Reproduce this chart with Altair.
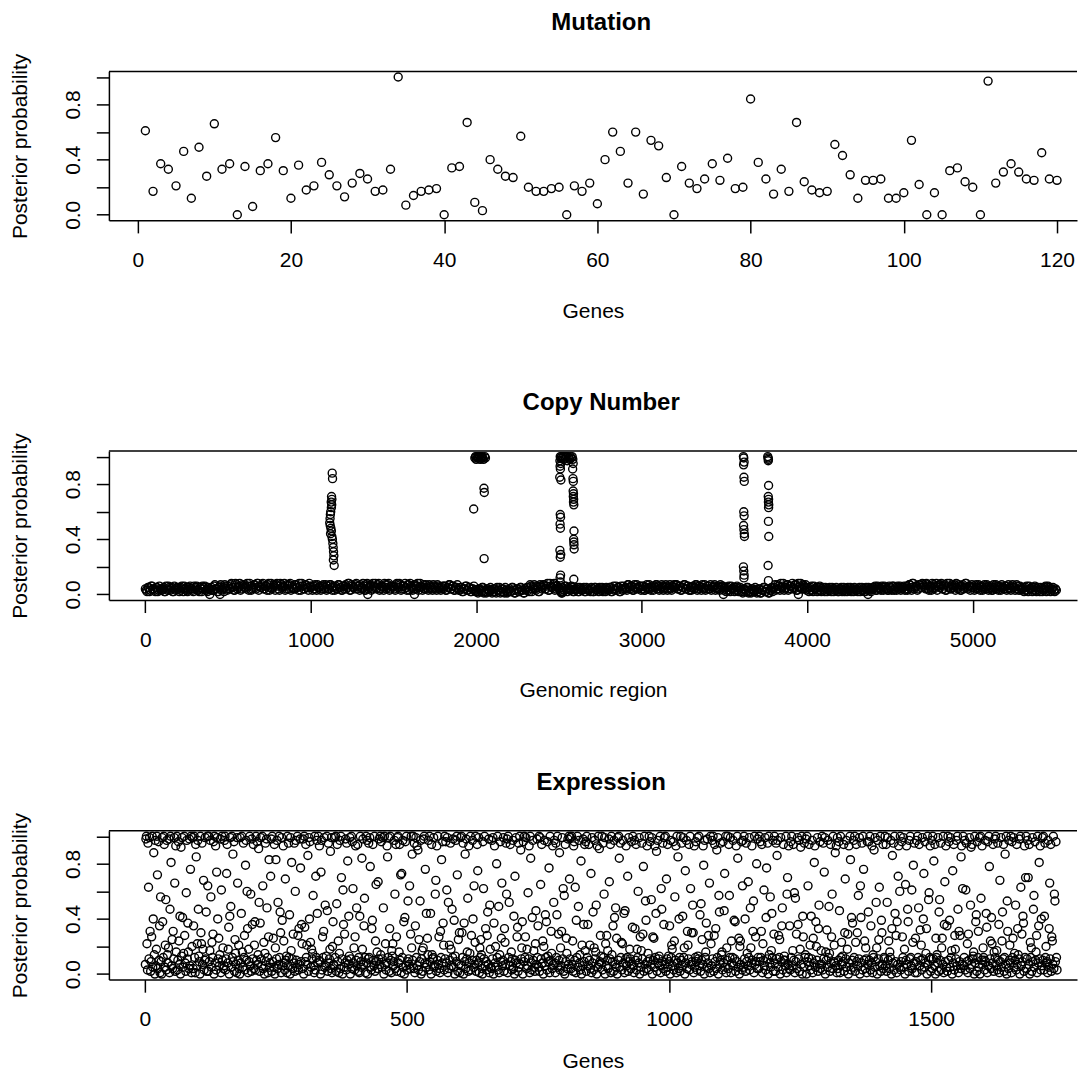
import altair as alt
import pandas as pd

alt.data_transformers.disable_max_rows()

# ---------------- data ----------------
# Mutation: posterior probability for genes 1..120
mutation_pp = [
    0.61, 0.17, 0.37, 0.33, 0.21, 0.46, 0.12, 0.49, 0.28, 0.66,
    0.33, 0.37, 0.00, 0.35, 0.06, 0.32, 0.37, 0.56, 0.32, 0.12,
    0.36, 0.18, 0.21, 0.38, 0.29, 0.21, 0.13, 0.23, 0.30, 0.26,
    0.17, 0.18, 0.33, 1.00, 0.07, 0.14, 0.17, 0.18, 0.19, 0.00,
    0.34, 0.35, 0.67, 0.09, 0.03, 0.40, 0.33, 0.28, 0.27, 0.57,
    0.20, 0.17, 0.17, 0.19, 0.20, 0.00, 0.21, 0.17, 0.23, 0.08,
    0.40, 0.60, 0.46, 0.23, 0.60, 0.15, 0.54, 0.50, 0.27, 0.00,
    0.35, 0.23, 0.19, 0.26, 0.37, 0.25, 0.41, 0.19, 0.20, 0.84,
    0.38, 0.26, 0.15, 0.33, 0.17, 0.67, 0.24, 0.18, 0.16, 0.17,
    0.51, 0.43, 0.29, 0.12, 0.25, 0.25, 0.26, 0.12, 0.12, 0.16,
    0.54, 0.22, 0.00, 0.16, 0.00, 0.32, 0.34, 0.24, 0.20, 0.00,
    0.97, 0.23, 0.31, 0.37, 0.31, 0.26, 0.25, 0.45, 0.26, 0.25,
]

# Copy number: baseline band (hundredths), regions 1, 11, 21, ... and 6, 16, 26, ...
cn_region_count = 5510
cn_baseline_pct_a = [
    4, 2, 5, 3, 6, 4, 2, 5, 3, 4,   3, 5, 2, 4, 6, 3, 5, 2, 4, 5,
    5, 3, 6, 2, 4, 5, 3, 6, 4, 2,   4, 6, 3, 5, 2, 4, 6, 3, 5, 4,
    5, 3, 7, 4, 2, 6, 3, 5, 7, 4,   6, 4, 8, 5, 3, 7, 5, 8, 4, 6,
    7, 4, 6, 8, 3, 5, 7, 4, 8, 6,   5, 8, 4, 6, 7, 3, 8, 5, 6, 7,
    6, 3, 7, 5, 8, 4, 6, 7, 3, 5,   4, 7, 5, 8, 3, 6, 4, 7, 5, 8,
    5, 3, 6, 4, 7, 5, 3, 6, 4, 7,   6, 4, 7, 3, 5, 6, 4, 7, 5, 3,
    4, 7, 5, 8, 3, 6, 5, 7, 4, 6,   7, 4, 6, 3, 8, 5, 7, 4, 6, 8,
    5, 8, 4, 6, 3, 7, 5, 8, 4, 6,   6, 3, 8, 5, 7, 4, 6, 8, 3, 7,
    8, 5, 4, 7, 6, 3, 8, 5, 7, 4,   5, 3, 6, 4, 7, 5, 3, 6, 4, 5,
    4, 6, 3, 5, 7, 4, 6, 3, 5, 4,   3, 5, 2, 4, 6, 3, 5, 2, 4, 3,
    3, 1, 4, 2, 5, 3, 1, 4, 2, 3,   2, 4, 1, 3, 5, 2, 4, 1, 3, 2,
    4, 2, 5, 1, 3, 4, 2, 5, 3, 1,   3, 5, 2, 6, 4, 7, 3, 5, 2, 6,
    5, 7, 4, 8, 3, 6, 5, 8, 4, 6,   4, 2, 5, 3, 6, 2, 4, 3, 5, 2,
    3, 5, 2, 4, 3, 5, 2, 4, 3, 2,   4, 2, 5, 3, 2, 4, 5, 3, 2, 4,
    3, 5, 2, 6, 4, 3, 5, 2, 4, 6,   5, 3, 7, 4, 6, 3, 5, 7, 4, 6,
    4, 6, 3, 7, 5, 4, 6, 3, 5, 7,   6, 4, 7, 3, 5, 6, 4, 7, 3, 5,
    5, 7, 4, 6, 3, 5, 7, 4, 6, 3,   3, 6, 5, 7, 4, 6, 3, 5, 7, 4,
    6, 4, 3, 5, 7, 4, 6, 3, 5, 6,   4, 2, 5, 3, 6, 4, 2, 5, 3, 4,
    3, 1, 4, 2, 5, 3, 1, 4, 2, 3,   2, 4, 1, 3, 5, 2, 4, 1, 3, 2,
    5, 3, 7, 4, 8, 6, 3, 5, 7, 4,   6, 8, 4, 7, 3, 5, 8, 4, 6, 7,
    4, 2, 5, 3, 6, 4, 2, 5, 3, 4,   3, 5, 2, 4, 3, 5, 2, 4, 3, 2,
    4, 2, 5, 3, 2, 4, 5, 3, 2, 4,   3, 4, 2, 5, 3, 2, 4, 5, 3, 4,
    4, 6, 3, 5, 4, 6, 3, 5, 4, 3,   5, 3, 6, 4, 3, 5, 6, 4, 5, 3,
    6, 4, 7, 3, 8, 5, 6, 4, 7, 5,   7, 5, 8, 4, 6, 3, 7, 5, 8, 6,
    5, 8, 4, 7, 3, 6, 8, 4, 5, 7,   8, 4, 6, 3, 7, 5, 8, 4, 6, 5,
    5, 3, 7, 4, 6, 5, 3, 7, 4, 6,   4, 6, 3, 5, 7, 4, 6, 3, 5, 4,
    6, 4, 5, 3, 7, 5, 4, 6, 3, 5,   4, 2, 5, 3, 6, 4, 2, 5, 3, 4,
    3, 5, 2, 4, 6, 3, 5, 2, 4, 3,   4,
]
cn_baseline_pct_b = [
    3, 5, 2, 6, 4, 3, 5, 2, 6, 3,   4, 2, 6, 3, 5, 4, 2, 6, 3, 4,
    2, 5, 4, 6, 3, 2, 5, 4, 3, 6,   5, 3, 2, 4, 6, 5, 3, 2, 4, 3,
    3, 6, 4, 2, 5, 7, 4, 2, 6, 3,   4, 7, 5, 3, 8, 4, 6, 3, 7, 5,
    5, 8, 3, 6, 4, 7, 5, 8, 3, 5,   7, 4, 6, 3, 8, 5, 4, 7, 3, 8,
    4, 8, 5, 6, 3, 7, 4, 8, 6, 4,   7, 5, 3, 6, 8, 4, 7, 5, 3, 6,
    6, 4, 7, 3, 5, 6, 4, 7, 5, 3,   4, 7, 5, 6, 3, 4, 7, 5, 3, 6,
    6, 4, 8, 3, 7, 5, 4, 8, 6, 3,   5, 8, 3, 7, 4, 6, 3, 8, 5, 4,
    7, 3, 6, 5, 8, 4, 7, 3, 6, 5,   4, 7, 5, 8, 3, 6, 4, 5, 7, 3,
    6, 3, 7, 4, 8, 5, 6, 3, 4, 7,   4, 7, 5, 3, 6, 4, 7, 5, 3, 6,
    6, 3, 5, 7, 4, 6, 3, 5, 7, 3,   5, 2, 4, 6, 3, 5, 2, 4, 6, 2,
    2, 4, 3, 5, 1, 2, 4, 3, 5, 1,   4, 2, 5, 3, 1, 4, 2, 5, 1, 3,
    2, 5, 3, 1, 4, 2, 5, 3, 1, 4,   5, 3, 7, 2, 5, 4, 6, 2, 7, 4,
    7, 4, 6, 3, 8, 5, 7, 3, 6, 5,   3, 5, 2, 6, 4, 5, 3, 6, 2, 4,
    4, 2, 5, 3, 4, 2, 5, 3, 4, 5,   2, 5, 3, 4, 5, 3, 2, 4, 5, 3,
    5, 2, 4, 3, 6, 5, 2, 6, 3, 4,   4, 7, 5, 6, 3, 7, 4, 5, 6, 3,
    6, 3, 5, 4, 7, 3, 5, 6, 7, 4,   3, 5, 6, 4, 7, 3, 5, 4, 6, 7,
    7, 4, 6, 3, 5, 7, 4, 6, 3, 5,   5, 4, 7, 3, 6, 5, 7, 4, 3, 6,
    4, 7, 5, 6, 3, 5, 4, 7, 6, 3,   5, 3, 6, 2, 4, 5, 3, 6, 2, 5,
    2, 4, 3, 5, 1, 2, 4, 3, 5, 1,   4, 1, 3, 5, 2, 4, 1, 3, 5, 4,
    7, 4, 6, 3, 5, 8, 4, 7, 3, 6,   4, 5, 7, 3, 8, 6, 4, 7, 5, 3,
    5, 3, 6, 2, 4, 5, 3, 6, 2, 5,   2, 4, 3, 5, 2, 4, 3, 5, 2, 4,
    5, 3, 2, 4, 5, 3, 2, 4, 5, 3,   2, 5, 3, 4, 2, 5, 3, 4, 2, 5,
    5, 3, 6, 4, 3, 5, 6, 4, 3, 6,   4, 6, 3, 5, 6, 4, 3, 5, 6, 4,
    3, 7, 5, 8, 4, 6, 3, 7, 5, 8,   6, 4, 7, 3, 5, 8, 4, 6, 3, 7,
    7, 4, 6, 3, 8, 5, 4, 7, 6, 3,   5, 7, 3, 6, 4, 8, 5, 6, 3, 7,
    6, 4, 5, 7, 3, 6, 4, 5, 7, 3,   5, 3, 7, 4, 6, 3, 5, 7, 4, 6,
    3, 7, 4, 6, 5, 3, 7, 4, 6, 3,   5, 3, 6, 2, 4, 5, 3, 6, 2, 5,
    2, 4, 3, 5, 2, 6, 4, 3, 5, 2,   3,
]

# Copy number: regions standing out from the band (spikes and dips)
cn_spike_region = [
    1130, 1132, 1126, 1128, 1124, 1127, 1125, 1121, 1119, 1117, 1115, 1118,
    1122, 1125, 1120, 1128, 1131, 1134, 1136, 1138, 1140, 1137, 1142,
    1985, 1992, 1996, 2000, 2004, 2008, 2012, 2016, 2020, 2024, 2028, 2032,
    2036, 2040, 2044, 2047, 2049, 2052, 2048, 2056,
    2508, 2510, 2506, 2511, 2507, 2509, 2505, 2512, 2508, 2510, 2507, 2509,
    2506, 2511, 2508, 2510, 2507, 2509,
    2515, 2520, 2525, 2530, 2535, 2540, 2545, 2550, 2555, 2560, 2565, 2570,
    2575, 2580,
    2584, 2586, 2583, 2585, 2587, 2586, 2588, 2587, 2589, 2588, 2590, 2591,
    2589, 2590, 2591, 2592, 2590,
    3615, 3617, 3619, 3616, 3618, 3620, 3617, 3619, 3616, 3618, 3620, 3621,
    3615, 3617, 3619, 3618,
    3762, 3764, 3766, 3765, 3767, 3765, 3767, 3766, 3768, 3767, 3766, 3768,
    3764, 3766,
    390, 452, 1345, 1627, 3494, 3947, 4368, 2515, 2520,
]
cn_spike_pp = [
    0.88, 0.84, 0.71, 0.69, 0.67, 0.65, 0.63, 0.60, 0.58, 0.55, 0.52, 0.50,
    0.48, 0.46, 0.44, 0.42, 0.40, 0.37, 0.34, 0.31, 0.28, 0.25, 0.21,
    0.62, 0.99, 1.00, 0.98, 1.00, 0.99, 1.00, 0.99, 1.00, 0.98, 1.00, 0.99,
    1.00, 0.99, 0.98, 0.77, 0.74, 1.00, 0.26, 0.99,
    1.00, 0.99, 0.97, 0.95, 0.93, 0.91, 0.85, 0.83, 0.58, 0.56, 0.51, 0.48,
    0.32, 0.29, 0.27, 0.14, 0.12, 0.09,
    1.00, 0.99, 1.00, 0.98, 1.00, 0.99, 1.00, 0.97, 1.00, 0.99, 0.98, 1.00,
    0.99, 1.00,
    0.98, 0.95, 0.91, 0.84, 0.82, 0.75, 0.73, 0.71, 0.69, 0.67, 0.65, 0.46,
    0.40, 0.38, 0.36, 0.33, 0.11,
    1.00, 0.99, 0.96, 0.94, 0.85, 0.82, 0.60, 0.57, 0.50, 0.47, 0.44, 0.42,
    0.20, 0.17, 0.14, 0.12,
    1.00, 0.99, 0.98, 0.97, 0.79, 0.71, 0.69, 0.67, 0.65, 0.63, 0.53, 0.42,
    0.21, 0.10,
    0.00, 0.00, 0.00, 0.00, 0.00, 0.00, 0.00, 0.01, 0.01,
]

# Expression: posterior probability (in hundredths) for genes 1..N
expr_pct_1 = [
    7, 98, 100, 22, 3, 95, 63, 11, 99, 31, 2, 9, 27, 100, 5, 40, 88, 14, 0, 97, 6, 18, 100, 72, 4, 96, 10, 35, 1, 56,
    9, 0, 99, 38, 12, 100, 94, 5, 21, 54, 3, 97, 14, 8, 19, 98, 1, 47, 100, 81, 6, 25, 4, 31, 11, 99, 66, 2, 93, 16,
    100, 3, 10, 96, 24, 7, 42, 0, 92, 13, 99, 41, 5, 15, 100, 28, 8, 2, 59, 97, 11, 37, 16, 4, 98, 6, 76, 100, 1, 20,
    99, 4, 35, 100, 12, 1, 94, 85, 6, 22, 97, 47, 13, 9, 0, 100, 30, 22, 95, 7, 18, 68, 3, 10, 99, 11, 45, 2, 100, 64,
    2, 100, 9, 17, 97, 56, 5, 23, 12, 29, 96, 0, 100, 8, 93, 3, 74, 99, 40, 11, 26, 6, 14, 98, 1, 61, 100, 10, 19, 4,
    6, 97, 100, 3, 11, 73, 94, 8, 18, 34, 0, 42, 99, 49, 5, 100, 12, 87, 9, 96, 2, 25, 15, 7, 1, 99, 66, 10, 21, 4,
    0, 99, 8, 44, 100, 16, 5, 95, 12, 28, 3, 79, 97, 10, 60, 33, 1, 18, 9, 100, 6, 58, 2, 98, 36, 11, 94, 4, 21, 38,
    3, 100, 10, 96, 7, 14, 91, 52, 2, 37, 99, 11, 6, 100, 64, 4, 23, 0, 15, 95, 9, 98, 48, 12, 1, 27, 83, 5, 8, 71,
    98, 2, 100, 9, 26, 5, 94, 0, 19, 83, 11, 97, 4, 52, 7, 100, 12, 45, 30, 1, 99, 39, 6, 93, 24, 8, 3, 69, 10, 13,
    1, 100, 6, 95, 12, 43, 0, 99, 17, 81, 11, 4, 29, 8, 95, 2, 60, 97, 10, 5, 100, 28, 3, 33, 7, 98, 77, 9, 36, 22,
]
expr_pct_2 = [
    4, 98, 0, 100, 34, 9, 94, 12, 21, 7, 86, 2, 99, 40, 96, 23, 5, 18, 11, 15, 57, 6, 1, 100, 3, 71, 12, 97, 44, 8,
    100, 10, 93, 9, 0, 74, 97, 3, 27, 12, 31, 99, 5, 50, 6, 13, 100, 46, 2, 95, 8, 11, 18, 89, 4, 99, 1, 20, 38, 7,
    6, 99, 12, 100, 2, 51, 94, 9, 24, 1, 15, 97, 4, 100, 70, 11, 0, 61, 36, 5, 29, 8, 98, 3, 95, 10, 82, 7, 42, 13,
    99, 0, 11, 100, 4, 96, 62, 8, 19, 3, 27, 93, 10, 48, 6, 94, 2, 12, 1, 42, 100, 9, 5, 84, 18, 98, 7, 35, 55, 12,
    1, 100, 8, 97, 0, 11, 95, 12, 99, 78, 5, 3, 33, 39, 94, 10, 6, 100, 2, 24, 65, 9, 16, 4, 67, 11, 98, 7, 100, 14,
    96, 5, 11, 99, 48, 0, 100, 7, 22, 3, 8, 93, 85, 12, 99, 2, 33, 100, 10, 1, 17, 13, 22, 6, 9, 97, 58, 4, 94, 27,
    2, 99, 100, 8, 16, 94, 10, 72, 1, 73, 12, 97, 5, 38, 0, 41, 96, 6, 100, 3, 9, 53, 11, 7, 64, 4, 29, 100, 19, 87,
    10, 100, 4, 95, 1, 35, 99, 12, 93, 6, 90, 3, 25, 9, 53, 97, 0, 11, 17, 2, 19, 98, 100, 8, 76, 5, 44, 7, 26, 14,
    97, 3, 100, 9, 44, 0, 94, 14, 11, 12, 99, 5, 6, 58, 68, 2, 93, 10, 100, 7, 27, 4, 1, 31, 12, 83, 8, 96, 37, 21,
    3, 100, 11, 96, 8, 61, 99, 1, 52, 4, 21, 10, 95, 18, 6, 47, 12, 98, 5, 39, 0, 13, 97, 9, 100, 72, 2, 25, 7, 30,
]
expr_pct_3 = [
    1, 99, 6, 100, 30, 12, 95, 0, 37, 9, 87, 4, 98, 11, 16, 55, 2, 93, 8, 15, 100, 3, 28, 10, 97, 40, 5, 64, 7, 23,
    100, 2, 10, 94, 75, 8, 99, 1, 19, 12, 25, 14, 4, 0, 96, 62, 11, 100, 6, 33, 9, 3, 28, 45, 7, 98, 1, 50, 18, 5,
    4, 97, 11, 99, 0, 37, 93, 8, 20, 5, 80, 12, 100, 3, 49, 1, 14, 96, 9, 26, 66, 6, 10, 99, 2, 33, 23, 7, 95, 58,
    98, 1, 100, 12, 52, 6, 94, 9, 16, 3, 11, 97, 4, 42, 0, 71, 10, 99, 8, 27, 34, 2, 95, 5, 100, 7, 90, 11, 19, 38,
    0, 96, 9, 100, 12, 27, 99, 4, 18, 6, 59, 11, 93, 1, 100, 84, 8, 3, 41, 97, 10, 17, 5, 2, 22, 46, 7, 98, 12, 35,
    5, 100, 2, 99, 65, 11, 94, 8, 24, 0, 20, 97, 6, 43, 12, 38, 3, 96, 13, 9, 77, 1, 100, 10, 31, 15, 4, 93, 7, 52,
    97, 8, 1, 95, 12, 43, 100, 5, 29, 10, 88, 3, 19, 6, 31, 99, 11, 62, 2, 57, 0, 94, 9, 26, 15, 4, 98, 7, 100, 69,
    11, 99, 4, 100, 7, 24, 2, 93, 96, 10, 63, 1, 39, 12, 100, 5, 49, 97, 8, 14, 3, 82, 0, 21, 6, 98, 36, 9, 94, 17,
    96, 2, 100, 12, 36, 6, 94, 10, 21, 4, 73, 1, 99, 8, 45, 3, 19, 97, 11, 16, 50, 0, 93, 5, 100, 7, 91, 9, 28, 13,
    8, 100, 3, 95, 12, 58, 99, 0, 22, 6, 28, 10, 17, 4, 98, 67, 11, 94, 1, 100, 14, 9, 35, 2, 97, 41, 7, 48, 5, 26,
]
expr_pct_4 = [
    0, 99, 10, 100, 84, 5, 95, 12, 23, 3, 22, 97, 8, 44, 1, 46, 11, 93, 6, 12, 71, 2, 99, 9, 18, 11, 4, 96, 7, 34,
    100, 6, 1, 97, 33, 10, 94, 3, 18, 12, 60, 8, 99, 0, 27, 5, 17, 95, 11, 29, 78, 2, 100, 7, 53, 39, 4, 93, 9, 15,
    3, 100, 11, 96, 7, 54, 99, 0, 27, 10, 26, 5, 93, 12, 44, 89, 2, 97, 8, 11, 13, 6, 100, 1, 62, 47, 9, 95, 4, 36,
    99, 7, 100, 2, 69, 11, 94, 5, 13, 9, 35, 0, 97, 12, 21, 18, 6, 96, 3, 24, 56, 10, 93, 1, 100, 8, 85, 4, 40, 12,
    2, 100, 10, 95, 6, 42, 99, 12, 19, 0, 75, 8, 97, 4, 31, 21, 11, 94, 3, 100, 62, 7, 30, 9, 50, 30, 1, 93, 5, 12,
    96, 9, 3, 99, 13, 11, 100, 6, 43, 2, 51, 10, 25, 7, 93, 79, 0, 97, 12, 16, 37, 5, 98, 8, 28, 4, 66, 1, 100, 22,
    6, 97, 11, 100, 2, 28, 94, 9, 33, 4, 90, 12, 99, 0, 57, 45, 7, 95, 10, 14, 16, 3, 96, 8, 46, 73, 5, 100, 1, 19,
    10, 100, 4, 94, 57, 12, 99, 1, 24, 8, 12, 97, 6, 39, 11, 38, 2, 93, 9, 100, 84, 5, 26, 0, 20, 24, 7, 96, 3, 64,
    97, 5, 100, 11, 40, 2, 95, 9, 15, 6, 67, 12, 99, 3, 48, 19, 8, 93, 10, 31, 53, 1, 100, 7, 27, 9, 80, 4, 98, 12,
    4, 100, 9, 96, 12, 31, 94, 1, 22, 10, 61, 6, 99, 3, 41, 77, 11, 95, 0, 100, 14, 8, 56, 5, 17, 44, 12, 97, 2, 29,
]
expr_pct_5 = [
    100, 8, 2, 95, 11, 86, 97, 5, 28, 12, 25, 0, 99, 9, 35, 48, 3, 94, 10, 13, 10, 6, 100, 1, 58, 70, 7, 93, 4, 35,
    3, 96, 12, 100, 6, 17, 94, 10, 59, 1, 55, 9, 29, 4, 99, 36, 11, 97, 2, 18, 92, 7, 100, 0, 42, 27, 5, 95, 12, 14,
    98, 0, 100, 9, 64, 12, 94, 6, 21, 3, 42, 11, 97, 1, 26, 8, 81, 93, 5, 38, 20, 10, 99, 2, 33, 50, 7, 96, 4, 17,
    7, 100, 3, 95, 11, 74, 99, 0, 16, 10, 32, 5, 97, 12, 49, 15, 2, 94, 8, 27, 58, 4, 100, 9, 21, 8, 88, 6, 93, 1,
    99, 4, 10, 96, 46, 1, 100, 12, 23, 7, 13, 9, 94, 2, 30, 69, 11, 97, 5, 18, 29, 0, 93, 8, 100, 83, 3, 41, 10, 37,
    5, 97, 12, 100, 2, 23, 94, 9, 30, 6, 57, 11, 99, 0, 64, 41, 8, 95, 3, 100, 76, 10, 24, 4, 19, 11, 1, 96, 7, 45,
    96, 10, 100, 3, 35, 8, 93, 1, 14, 12, 90, 5, 99, 9, 52, 19, 0, 97, 11, 25, 63, 6, 100, 2, 39, 30, 7, 94, 4, 12,
    11, 100, 6, 94, 2, 52, 99, 10, 24, 4, 16, 12, 97, 0, 33, 86, 8, 95, 3, 100, 44, 9, 28, 1, 38, 7, 71, 93, 5, 60,
    100, 3, 9, 96, 27, 12, 99, 5, 18, 0, 65, 10, 93, 7, 47, 38, 2, 97, 11, 100, 12, 6, 61, 4, 23, 79, 8, 95, 1, 26,
    9, 97, 1, 100, 12, 48, 94, 6, 32, 10, 21, 3, 99, 11, 40, 73, 5, 96, 8, 15, 33, 0, 100, 7, 54, 59, 12, 93, 2, 11,
]
expr_pct_6 = [
    97, 4, 100, 11, 82, 6, 94, 0, 26, 12, 14, 8, 99, 2, 45, 54, 10, 95, 3, 19, 26, 7, 100, 1, 36, 67, 9, 93, 5, 35,
    2, 100, 10, 96, 39, 5, 99, 12, 17, 0, 75, 8, 94, 3, 28, 18, 11, 97, 6, 100, 47, 1, 31, 9, 28, 4, 85, 93, 7, 62,
    100, 6, 12, 97, 3, 61, 95, 9, 22, 1, 29, 10, 99, 4, 50, 92, 7, 94, 11, 13, 16, 0, 100, 8, 38, 43, 2, 96, 12, 31,
    5, 99, 0, 100, 55, 10, 93, 7, 19, 12, 10, 3, 97, 9, 44, 34, 1, 96, 6, 100, 78, 11, 24, 4, 41, 22, 8, 94, 2, 16,
    98, 12, 100, 6, 17, 3, 95, 10, 36, 1, 68, 9, 99, 5, 24, 45, 11, 94, 2, 12, 87, 7, 100, 0, 53, 31, 4, 97, 10, 21,
    8, 100, 1, 96, 12, 26, 99, 5, 15, 10, 50, 3, 94, 7, 33, 14, 11, 98, 0, 100, 63, 6, 29, 9, 42, 37, 2, 93, 12, 70,
    100, 4, 11, 97, 70, 7, 94, 0, 23, 12, 19, 2, 99, 9, 47, 57, 5, 96, 10, 16, 28, 1, 100, 8, 35, 81, 11, 93, 3, 40,
    6, 99, 10, 100, 3, 42, 95, 12, 20, 8, 9, 1, 97, 5, 33, 66, 11, 94, 2, 27, 24, 7, 100, 4, 58, 53, 9, 96, 12, 3,
]

panel_titles = ["Mutation", "Copy Number", "Expression"]
x_titles = ["Genes", "Genomic region", "Genes"]
x_ticks = [[0, 20, 40, 60, 80, 100, 120],
           [0, 1000, 2000, 3000, 4000, 5000],
           [0, 500, 1000, 1500]]
y_ticks = [0, 0.2, 0.4, 0.6, 0.8, 1.0]
y_labels_shown = ["0.0", "0.4", "0.8"]

# ---------------- tables ----------------
mut_df = pd.DataFrame({"x": list(range(1, len(mutation_pp) + 1)), "pp": mutation_pp})

cn_df = pd.concat([
    pd.DataFrame({"x": [1 + 10 * i for i in range(len(cn_baseline_pct_a))],
                  "pp": [v / 100 for v in cn_baseline_pct_a]}),
    pd.DataFrame({"x": [6 + 10 * i for i in range(len(cn_baseline_pct_b))],
                  "pp": [v / 100 for v in cn_baseline_pct_b]}),
    pd.DataFrame({"x": cn_spike_region, "pp": cn_spike_pp}),
], ignore_index=True)

expr_pct = expr_pct_1 + expr_pct_2 + expr_pct_3 + expr_pct_4 + expr_pct_5 + expr_pct_6
expr_df = pd.DataFrame({"x": list(range(1, len(expr_pct) + 1)), "pp": [v / 100 for v in expr_pct]})

# ---------------- chart ----------------
FONT = "Liberation Sans"
FULL_W = 985.5      # width of R's plot region (it runs past the right edge of the picture)
W, H = 969, 149     # visible part of the plot region
label_expr = "indexof(%s, datum.label) >= 0 ? datum.label : ''" % str(y_labels_shown)


def panel(df, n, title_text, x_title, xt, x_title_y):
    pad = 0.04 * (n - 1)          # R's default 4% axis expansion
    lo, hi = 1 - pad, n + pad
    hi_visible = lo + (hi - lo) * W / FULL_W
    pts = alt.Chart(df).mark_point(
        shape="circle", filled=False, color="black", opacity=1, size=64, strokeWidth=1.4
    ).encode(
        x=alt.X("x:Q",
                scale=alt.Scale(domain=[lo, hi_visible], nice=False, zero=False),
                axis=alt.Axis(values=xt, format="d", title=x_title,
                              labelBaseline="alphabetic", labelPadding=33.7,
                              titleBaseline="alphabetic", titleY=x_title_y)),
        y=alt.Y("pp:Q",
                scale=alt.Scale(domain=[-0.04, 1.04], nice=False, zero=False),
                axis=alt.Axis(values=y_ticks, format=".1f", labelExpr=label_expr,
                              title="Posterior probability",
                              labelAngle=270, labelAlign="center", labelBaseline="alphabetic",
                              labelPadding=16.7,
                              titleAngle=270, titleAlign="center", titleBaseline="alphabetic",
                              titleX=-82, titleY=H / 2)),
    )
    one = pd.DataFrame({"t": [title_text]})
    top_edge = alt.Chart(one).mark_rule(color="black", strokeWidth=1.5).encode(
        x=alt.value(0), x2=alt.value(W), y=alt.value(0))
    heading = alt.Chart(one).mark_text(
        font=FONT, fontSize=24, fontWeight="bold", align="center",
        baseline="alphabetic", color="black"
    ).encode(x=alt.value(FULL_W / 2), y=alt.value(-41), text="t:N")
    return alt.layer(pts, top_edge, heading).properties(width=W, height=H)


chart = alt.vconcat(
    panel(mut_df, len(mutation_pp), panel_titles[0], x_titles[0], x_ticks[0], 96.8),
    panel(cn_df, cn_region_count, panel_titles[1], x_titles[1], x_ticks[1], 96.8),
    panel(expr_df, len(expr_pct), panel_titles[2], x_titles[2], x_ticks[2], 87.5),
    spacing=70,
).properties(
    padding={"left": 2, "top": 3, "right": 0, "bottom": 0},
    background="white",
).configure(
    font=FONT,
).configure_view(
    stroke="transparent", strokeWidth=0,
).configure_axis(
    domain=True, domainColor="black", domainWidth=1.5,
    grid=False, ticks=True,
    tickSize=12.6, tickWidth=1.5, tickColor="black",
    labelFont=FONT, labelFontSize=21, labelColor="black",
    labelFlush=False, labelOverlap=False,
    titleFont=FONT, titleFontSize=21, titleFontWeight="normal", titleColor="black",
)

chart.save("out.html", embed_options={"renderer": "svg", "actions": False})
